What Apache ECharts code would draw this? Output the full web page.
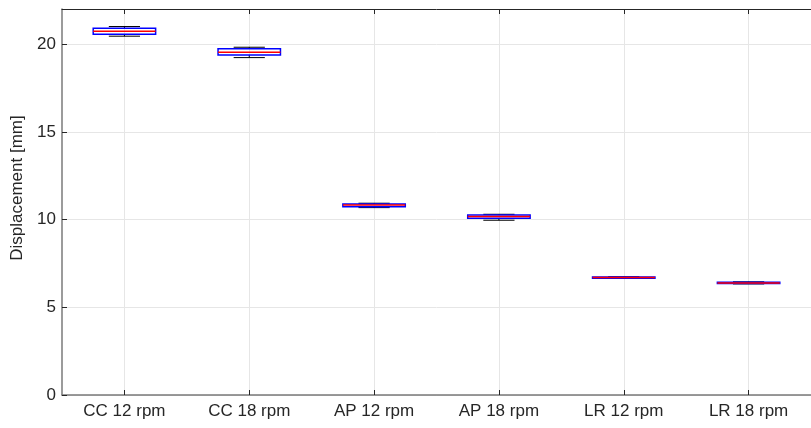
<!DOCTYPE html>
<html>
<head>
<meta charset="utf-8">
<script src="https://cdn.jsdelivr.net/npm/echarts@6/dist/echarts.min.js"></script>
<style>
  html, body { margin: 0; padding: 0; background: #ffffff; }
  #chart { width: 811px; height: 428px; }
</style>
</head>
<body>
<div id="chart"></div>
<script>
// Measurement groups along the horizontal axis
const categories = ['CC 12 rpm', 'CC 18 rpm', 'AP 12 rpm', 'AP 18 rpm', 'LR 12 rpm', 'LR 18 rpm'];

// Box statistics per group, displacement in mm
const lowerWhisker = [20.45, 19.23, 10.68, 9.96, 6.64, 6.33];
const quartile1    = [20.56, 19.38, 10.73, 10.07, 6.66, 6.36];
const medianValue  = [20.73, 19.54, 10.83, 10.17, 6.69, 6.39];
const quartile3    = [20.90, 19.73, 10.89, 10.26, 6.72, 6.42];
const upperWhisker = [21.00, 19.82, 10.93, 10.30, 6.74, 6.45];

// Value axis range and labelled ticks
const yMin = 0;
const yMax = 22;
const yStep = 5;

const AXIS_DARK = '#262626';
const AXIS_GREY = '#7a7a7a';
const GRID_COLOR = '#e6e6e6';
const FONT = 'Liberation Sans, Arial, Helvetica, sans-serif';
const FONT_SIZE = 17;

const boxData = categories.map((c, i) => [
  i, lowerWhisker[i], quartile1[i], medianValue[i], quartile3[i], upperWhisker[i]
]);

// Classic box-and-whisker glyph: dashed black whiskers, black caps,
// blue box outline and red median line.
function renderBox(params, api) {
  const i = api.value(0);
  const pLo = api.coord([i, api.value(1)]);
  const pQ1 = api.coord([i, api.value(2)]);
  const pMed = api.coord([i, api.value(3)]);
  const pQ3 = api.coord([i, api.value(4)]);
  const pHi = api.coord([i, api.value(5)]);
  const band = api.size([1, 0])[0];
  const boxHalf = band * 0.25;
  const capHalf = band * 0.125;
  const x = pMed[0];

  return {
    type: 'group',
    children: [
      { type: 'line', shape: { x1: x, y1: pQ3[1], x2: x, y2: pHi[1] },
        style: { stroke: '#000000', lineWidth: 1, lineDash: [4, 3] } },
      { type: 'line', shape: { x1: x, y1: pQ1[1], x2: x, y2: pLo[1] },
        style: { stroke: '#000000', lineWidth: 1, lineDash: [4, 3] } },
      { type: 'line', shape: { x1: x - capHalf, y1: pHi[1], x2: x + capHalf, y2: pHi[1] },
        style: { stroke: '#000000', lineWidth: 1 } },
      { type: 'line', shape: { x1: x - capHalf, y1: pLo[1], x2: x + capHalf, y2: pLo[1] },
        style: { stroke: '#000000', lineWidth: 1 } },
      { type: 'rect', shape: { x: x - boxHalf, y: pQ3[1], width: boxHalf * 2, height: pQ1[1] - pQ3[1] },
        style: { fill: 'none', stroke: '#0000ff', lineWidth: 1.5 } },
      { type: 'line', shape: { x1: x - boxHalf, y1: pMed[1], x2: x + boxHalf, y2: pMed[1] },
        style: { stroke: '#ff0000', lineWidth: 1.5 } }
    ]
  };
}

const chart = echarts.init(document.getElementById('chart'), null, { renderer: 'canvas' });

chart.setOption({
  animation: false,
  backgroundColor: '#ffffff',
  textStyle: { fontFamily: FONT },
  grid: { left: 62, top: 9, right: -10, bottom: 33, containLabel: false },
  xAxis: [
    {
      type: 'category',
      data: categories,
      position: 'bottom',
      boundaryGap: true,
      axisLine: { show: true, lineStyle: { color: AXIS_GREY, width: 1.5 } },
      axisTick: { show: true, inside: true, length: 5, alignWithLabel: true,
                  lineStyle: { color: AXIS_DARK, width: 1 } },
      axisLabel: { show: true, color: AXIS_DARK, fontSize: FONT_SIZE, margin: 8, fontFamily: FONT },
      splitLine: { show: true, alignWithLabel: true, lineStyle: { color: GRID_COLOR, width: 1 } }
    },
    {
      type: 'category',
      data: categories,
      position: 'top',
      boundaryGap: true,
      axisLine: { show: true, lineStyle: { color: AXIS_DARK, width: 1 } },
      axisTick: { show: true, inside: true, length: 5, alignWithLabel: true,
                  lineStyle: { color: AXIS_DARK, width: 1 } },
      axisLabel: { show: false },
      splitLine: { show: false }
    }
  ],
  yAxis: {
    type: 'value',
    min: yMin,
    max: yMax,
    interval: yStep,
    name: 'Displacement [mm]',
    nameLocation: 'middle',
    nameRotate: 90,
    nameGap: 36,
    // extra leading padding lifts the rotated title slightly above the axis midpoint
    nameTextStyle: { color: AXIS_DARK, fontSize: FONT_SIZE, fontFamily: FONT, padding: [0, 0, 0, 28] },
    axisLine: { show: true, lineStyle: { color: AXIS_GREY, width: 1.5 } },
    axisTick: { show: true, inside: true, length: 5, lineStyle: { color: AXIS_DARK, width: 1 } },
    axisLabel: { color: AXIS_DARK, fontSize: FONT_SIZE, margin: 6, showMaxLabel: false, fontFamily: FONT,
                 formatter: v => (v % yStep === 0 ? String(v) : '') },
    splitLine: { show: true, lineStyle: { color: GRID_COLOR, width: 1 } }
  },
  series: [
    {
      type: 'custom',
      xAxisIndex: 0,
      renderItem: renderBox,
      encode: { x: 0, y: [1, 2, 3, 4, 5] },
      data: boxData,
      clip: false,
      z: 5
    }
  ]
});
</script>
</body>
</html>
